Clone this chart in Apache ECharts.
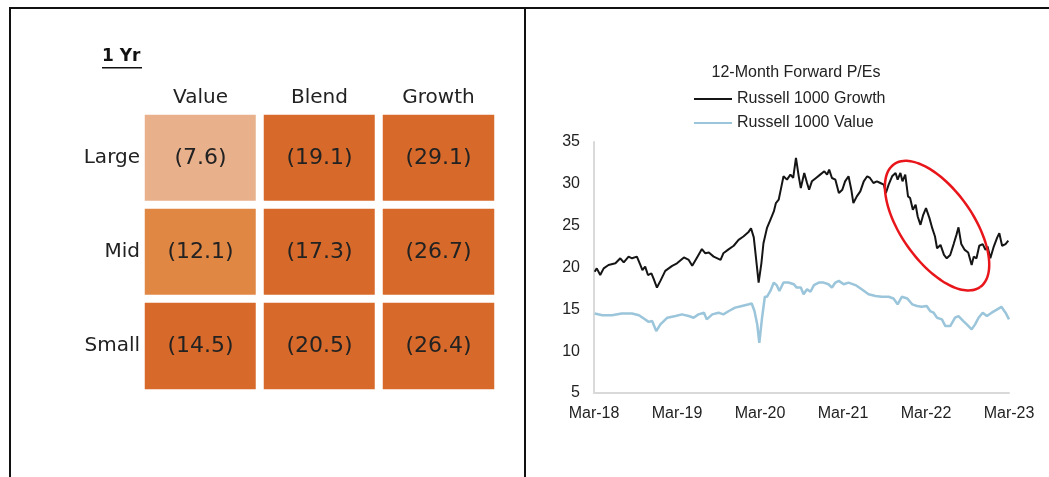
<!DOCTYPE html>
<html>
<head>
<meta charset="utf-8">
<script src="https://cdn.jsdelivr.net/npm/echarts@6/dist/echarts.min.js"></script>
<style>
  html, body { margin: 0; padding: 0; background: #fff; }
  #chart { width: 1049px; height: 477px; }
</style>
</head>
<body>
<div id="chart"></div>
<script>
// ---- 1-year style box returns (%), rows = size, cols = style ----
const styleCols = ['Value', 'Blend', 'Growth'];
const sizeRows = ['Large', 'Mid', 'Small'];
const returns1Yr = [
  [-7.6, -19.1, -29.1],
  [-12.1, -17.3, -26.7],
  [-14.5, -20.5, -26.4]
];

// ---- 12-month forward P/E, x = months since Mar-2018 ----
const xTickLabels = ['Mar-18', 'Mar-19', 'Mar-20', 'Mar-21', 'Mar-22', 'Mar-23'];
const growthMonths = [0.1,0.4,0.9,1.4,2.1,3.1,3.8,4.3,5.0,5.5,
  6.2,6.7,7.0,7.4,7.8,8.3,8.6,9.1,9.6,10.3,
  11.3,12.0,13.0,13.7,14.2,14.9,15.6,16.1,16.6,17.3,
  18.3,18.7,19.5,20.2,20.9,21.6,22.3,22.7,23.1,23.4,
  23.8,24.2,24.5,25.0,25.5,26.0,26.3,26.7,27.1,27.4,
  27.9,28.4,28.8,29.2,29.6,29.9,30.4,30.8,31.1,31.5,
  32.1,32.7,33.3,33.7,34.0,34.4,34.9,35.4,35.9,36.3,
  36.8,37.2,37.5,38.0,38.5,39.0,39.5,39.9,40.4,40.9,
  41.4,41.9,42.2,42.6,43.1,43.6,43.9,44.3,44.6,45.0,
  45.4,45.7,46.1,46.5,46.8,47.2,47.6,48.0,48.5,48.9,
  49.3,49.6,50.1,50.6,51.0,51.5,52.0,52.4,52.7,53.1,
  53.6,54.1,54.6,54.9,55.3,55.7,56.2,56.6,56.9,57.3,
  57.8,58.3,58.6,59.0,59.5,59.9];
const growthPE = [19.5,19.9,19.1,19.9,20.3,20.5,21.1,20.6,21.3,21.1,
  21.3,20.3,19.7,20.1,19.1,19.3,18.7,17.6,18.4,19.6,
  20.2,20.5,21.2,20.9,20.2,21.2,22.2,21.7,21.8,21.3,
  20.9,21.7,22.2,22.6,23.3,23.7,24.2,24.7,23.6,21.3,
  18.2,20.5,22.9,24.7,25.7,26.7,27.7,28.1,29.7,30.9,
  30.5,31.1,30.7,33.1,30.9,29.5,31.3,30.1,29.3,30.3,
  30.7,31.1,31.5,31.1,31.7,30.7,30.5,28.9,29.3,30.3,
  30.9,29.3,27.7,28.5,29.1,30.3,30.9,30.7,30.1,30.3,
  30.1,29.9,28.9,29.9,30.9,31.3,30.5,31.3,30.3,31.1,
  28.5,28.3,26.9,27.5,26.1,25.1,26.3,27.1,25.9,24.7,
  23.7,22.3,22.7,21.5,21.1,21.5,22.8,23.9,24.8,22.8,
  22.1,21.8,20.3,21.3,21.1,22.6,22.8,22.1,22.5,21.1,
  22.5,23.6,24.1,22.6,22.8,23.2];
const valueMonths = [0.1,1.2,2.6,4.0,5.5,6.5,7.2,7.9,8.4,9.0,
  9.6,10.6,11.8,12.7,13.7,14.4,15.1,15.9,16.3,17.1,
  18.0,18.7,19.5,20.4,21.4,22.4,22.8,23.2,23.6,23.9,
  24.3,24.7,25.0,25.5,26.0,26.4,26.8,27.4,28.1,28.9,
  29.3,29.9,30.3,30.8,31.3,31.8,32.5,33.2,33.9,34.4,
  34.9,35.4,36.1,36.8,37.8,38.7,39.7,40.7,41.6,42.6,
  43.3,43.9,44.5,45.3,46.0,46.7,47.4,48.1,48.6,49.1,
  49.6,50.3,50.8,51.5,52.2,52.7,53.4,53.9,54.6,55.1,
  55.6,56.2,56.8,57.5,58.3,58.9,59.5,60.0];
const valuePE = [14.5,14.3,14.3,14.5,14.5,14.3,13.9,13.5,13.6,12.4,
  13.2,14.0,14.2,14.4,14.2,14.0,14.4,14.6,13.8,14.4,
  14.6,14.4,14.8,15.2,15.4,15.6,15.7,14.8,13.2,11.0,
  14.0,16.5,16.5,17.2,18.2,17.9,17.2,18.2,18.2,18.0,
  17.6,17.6,16.8,17.4,17.1,17.9,18.2,18.2,18.0,17.6,
  18.2,18.4,18.0,18.2,17.9,17.4,16.8,16.6,16.5,16.5,
  16.3,15.6,16.5,16.3,15.6,15.4,15.3,15.4,14.8,14.6,
  14.0,13.8,13.0,13.0,14.0,14.2,13.6,13.2,12.6,13.2,
  14.0,14.6,14.2,14.6,15.0,15.3,14.6,13.8];

const heatData = [];
returns1Yr.forEach((row, r) => row.forEach((v, c) => heatData.push([c, r, v])));
const zip = (xs, ys) => xs.map((x, i) => [x, ys[i]]);

const boxFont = 'DejaVu Sans';
const chartFont = 'Liberation Sans';

const chart = echarts.init(document.getElementById('chart'), null, { renderer: 'canvas' });

const option = {
  backgroundColor: '#ffffff',
  animation: false,
  title: {
    text: '12-Month Forward P/Es',
    left: 791, top: 60, textAlign: 'center',
    textStyle: { fontFamily: chartFont, fontSize: 16, fontWeight: 'normal', color: '#222' }
  },
  legend: {
    orient: 'vertical', left: 694, top: 91, itemGap: 8, padding: 0,
    icon: 'rect', itemWidth: 38, itemHeight: 2,
    textStyle: { fontFamily: chartFont, fontSize: 16, color: '#222' },
    data: ['Russell 1000 Growth', 'Russell 1000 Value']
  },
  grid: [
    { left: 141, top: 111, width: 357, height: 282 },
    { left: 594, top: 142, width: 415, height: 251 }
  ],
  xAxis: [
    {
      gridIndex: 0, type: 'category', position: 'top', data: styleCols, z: 10,
      axisLine: { show: false }, axisTick: { show: false }, splitLine: { show: false },
      axisLabel: { fontFamily: boxFont, fontSize: 20, color: '#222', margin: 3 }
    },
    {
      gridIndex: 1, type: 'value', min: 0, max: 60, interval: 12,
      axisLine: { show: true, lineStyle: { color: '#d9d9d9', width: 2 } },
      axisTick: { show: false }, splitLine: { show: false },
      axisLabel: {
        fontFamily: chartFont, fontSize: 16, color: '#222', margin: 13,
        formatter: v => xTickLabels[Math.round(v / 12)]
      }
    }
  ],
  yAxis: [
    {
      gridIndex: 0, type: 'category', data: sizeRows, inverse: true, z: 10,
      axisLine: { show: false }, axisTick: { show: false }, splitLine: { show: false },
      axisLabel: { fontFamily: boxFont, fontSize: 20, color: '#222', margin: 1, padding: [3, 0, 0, 0] }
    },
    {
      gridIndex: 1, type: 'value', min: 5, max: 35, interval: 5,
      axisLine: { show: true, lineStyle: { color: '#d9d9d9', width: 2 } },
      axisTick: { show: false }, splitLine: { show: false },
      axisLabel: { fontFamily: chartFont, fontSize: 16, color: '#222', margin: 14 }
    }
  ],
  visualMap: {
    show: false, type: 'piecewise', seriesIndex: 0, dimension: 2,
    pieces: [
      { gt: -10, color: '#e9b08c' },
      { gt: -13, lte: -10, color: '#e08744' },
      { lte: -13, color: '#d76a2a' }
    ]
  },
  series: [
    {
      type: 'heatmap', xAxisIndex: 0, yAxisIndex: 0, data: heatData,
      itemStyle: { borderColor: '#ffffff', borderWidth: 8 },
      label: {
        show: true, fontFamily: boxFont, fontSize: 22, color: '#222', padding: [3, 0, 0, 0],
        formatter: p => '(' + Math.abs(p.value[2]).toFixed(1) + ')'
      },
      emphasis: { disabled: true }
    },
    {
      name: 'Russell 1000 Growth', type: 'line', xAxisIndex: 1, yAxisIndex: 1,
      data: zip(growthMonths, growthPE), showSymbol: false, symbol: 'none',
      lineStyle: { color: '#151515', width: 2 }, itemStyle: { color: '#151515' }
    },
    {
      name: 'Russell 1000 Value', type: 'line', xAxisIndex: 1, yAxisIndex: 1,
      data: zip(valueMonths, valuePE), showSymbol: false, symbol: 'none',
      lineStyle: { color: '#9bc5da', width: 2.5 }, itemStyle: { color: '#9bc5da' }
    }
  ],
  graphic: [
    // panel frame
    { id: 'frameTop', type: 'rect', shape: { x: 9, y: 7, width: 1040, height: 2 }, style: { fill: '#111' } },
    { id: 'frameLeft', type: 'rect', shape: { x: 9, y: 7, width: 2, height: 470 }, style: { fill: '#111' } },
    { id: 'frameMid', type: 'rect', shape: { x: 524, y: 7, width: 2, height: 470 }, style: { fill: '#111' } },
    // "1 Yr" heading with underline
    { id: 'yrText', type: 'text', left: 102, top: 48,
      style: { text: '1 Yr', fontFamily: boxFont, fontSize: 17, fontWeight: 'bold', fill: '#111' } },
    { id: 'yrLine', type: 'rect', shape: { x: 102, y: 67, width: 40, height: 1.5 }, style: { fill: '#111' } }
  ]
};

chart.setOption(option);

// Hand-drawn style ellipse around the 2022 de-rating, anchored in data space
const ctr = chart.convertToPixel({ gridIndex: 1 }, [49.6, 25.0]);
const a = 75, b = 36, rot = 55 * Math.PI / 180;
const ring = [];
for (let i = 0; i <= 72; i++) {
  const t = i / 72 * Math.PI * 2;
  const ex = a * Math.cos(t), ey = b * Math.sin(t);
  ring.push([ctr[0] + ex * Math.cos(rot) - ey * Math.sin(rot),
             ctr[1] + ex * Math.sin(rot) + ey * Math.cos(rot)]);
}
chart.setOption({
  graphic: [{ id: 'circleMark', type: 'polyline', shape: { points: ring, smooth: 0.3 },
    style: { stroke: '#e8161b', lineWidth: 2.5, fill: null }, z: 10 }]
});
</script>
</body>
</html>
